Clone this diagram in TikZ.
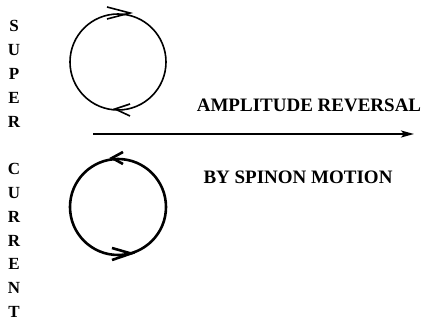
\documentclass[tikz,border=0pt]{standalone}
\usepackage{fontspec}
\setmainfont{Liberation Serif}
\usetikzlibrary{arrows.meta}
\tikzset{
    sc side/.style={font=\fontsize{17}{23.8}\selectfont\bfseries,
                    align=center, inner sep=0pt, anchor=north},
    sc label/.style={font=\fontsize{19}{21}\selectfont\bfseries,
                     inner sep=0pt},
    sc flow/.style={line width=2pt,
                    -{Stealth[length=13pt, width=7pt, inset=3pt]}},
    sc thin/.style={line width=1.6pt},
    sc thick/.style={line width=2.6pt},
}

\begin{document}
\begin{tikzpicture}[x=1pt, y=-1pt]
    \useasboundingbox (0, 0) rectangle (424, 320);
    % Side caption
    \node[sc side] (side) at (14, 20.5)
        {S\\U\\P\\E\\R\\~\\C\\U\\R\\R\\E\\N\\T};
    % Upper loop (clockwise)
    \coordinate (upc) at (118, 62);
    \draw[sc thin] (upc) circle[radius=48];
    \draw[sc thin] (upc) ++(-11, -55) -- ++(23, 6) -- ++(-23, 6);
    \draw[sc thin] (upc) ++(12, 42) -- ++(-15, 5) -- ++(15, 7);
    % Lower loop (anticlockwise)
    \coordinate (loc) at (118, 207);
    \draw[sc thick] (loc) circle[radius=48];
    \draw[sc thick] (loc) ++(5, -55) -- ++(-11, 6) -- ++(11, 6);
    \draw[sc thick] (loc) ++(-6, 41) -- ++(19, 5.5) -- ++(-19, 6.5);
    % Reversal arrow
    \coordinate (flowA) at (93, 134);
    \coordinate (flowB) at (414, 134);
    \draw[sc flow] (flowA) -- (flowB);
    \node[sc label] (amp) at (309, 105) {AMPLITUDE REVERSAL};
    \node[sc label] (spin) at (298, 177) {BY SPINON MOTION};
\end{tikzpicture}
\end{document}
